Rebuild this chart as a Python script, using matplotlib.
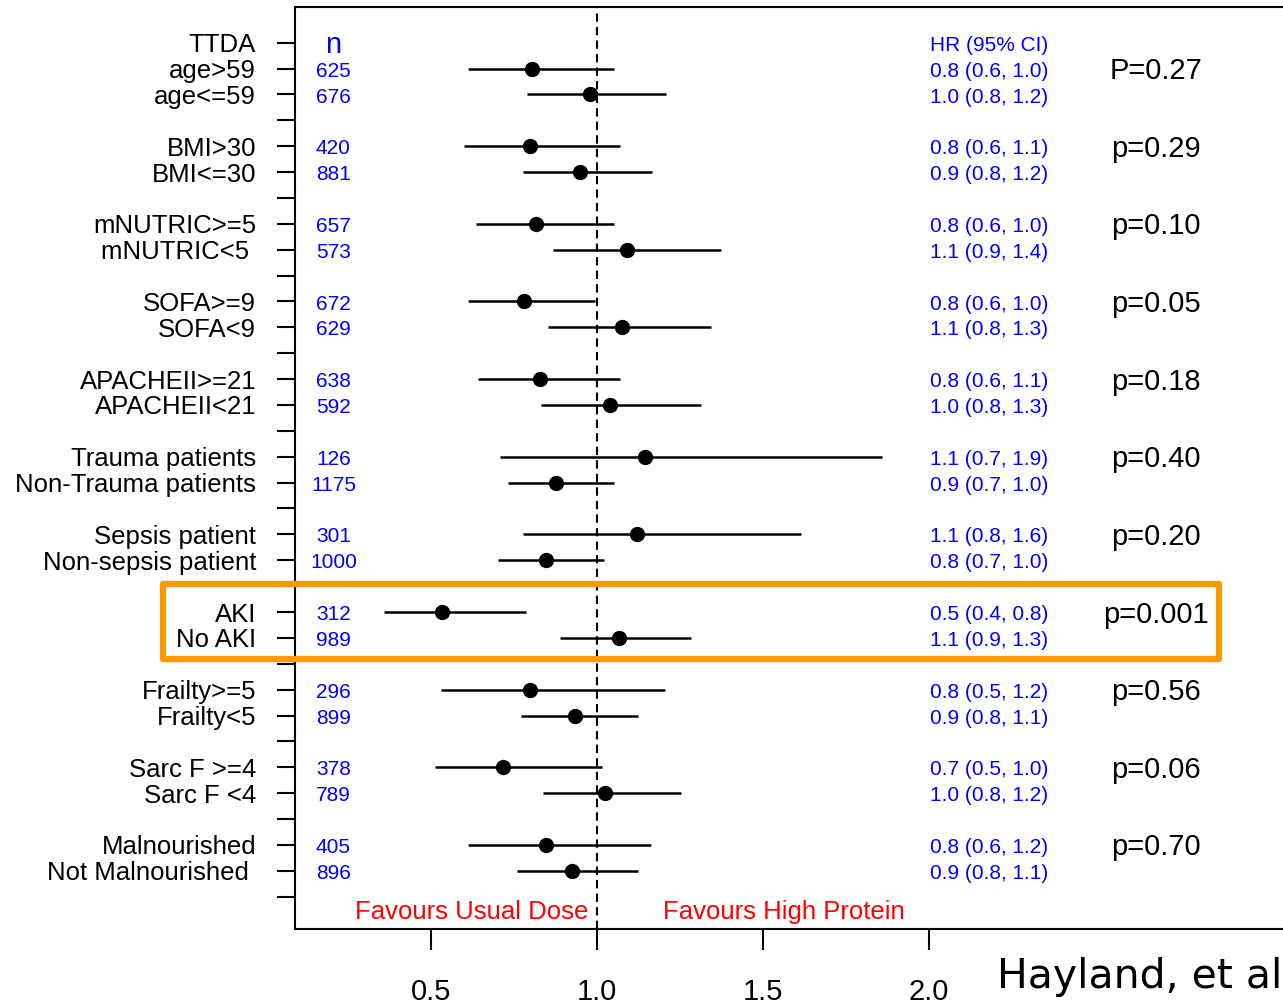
import numpy as np
import matplotlib.pyplot as plt
from matplotlib.patches import Rectangle

plt.rcParams['font.family'] = ['Liberation Sans', 'DejaVu Sans']

# subgroups, two per group
subgroups = ["age>59", "age<=59", "BMI>30", "BMI<=30", "mNUTRIC>=5", "mNUTRIC<5 ",
             "SOFA>=9", "SOFA<9", "APACHEII>=21", "APACHEII<21",
             "Trauma patients", "Non-Trauma patients", "Sepsis patient", "Non-sepsis patient",
             "AKI", "No AKI", "Frailty>=5", "Frailty<5", "Sarc F >=4", "Sarc F <4",
             "Malnourished", "Not Malnourished "]
n_pat = [625, 676, 420, 881, 657, 573, 672, 629, 638, 592, 126, 1175,
         301, 1000, 312, 989, 296, 899, 378, 789, 405, 896]
hr = [0.804, 0.980, 0.799, 0.951, 0.818, 1.091, 0.780, 1.075, 0.829, 1.041, 1.146, 0.877,
      1.122, 0.847, 0.533, 1.068, 0.798, 0.934, 0.718, 1.025, 0.848, 0.926]
ci_lo = [0.612, 0.789, 0.601, 0.779, 0.637, 0.869, 0.612, 0.852, 0.643, 0.832, 0.710, 0.734,
         0.779, 0.704, 0.360, 0.888, 0.532, 0.771, 0.514, 0.838, 0.611, 0.759]
ci_hi = [1.051, 1.210, 1.069, 1.168, 1.051, 1.375, 0.995, 1.345, 1.069, 1.315, 1.860, 1.052,
         1.615, 1.021, 0.788, 1.284, 1.205, 1.125, 1.015, 1.253, 1.163, 1.125]
hr_text = ["0.8 (0.6, 1.0)", "1.0 (0.8, 1.2)", "0.8 (0.6, 1.1)", "0.9 (0.8, 1.2)",
           "0.8 (0.6, 1.0)", "1.1 (0.9, 1.4)", "0.8 (0.6, 1.0)", "1.1 (0.8, 1.3)",
           "0.8 (0.6, 1.1)", "1.0 (0.8, 1.3)", "1.1 (0.7, 1.9)", "0.9 (0.7, 1.0)",
           "1.1 (0.8, 1.6)", "0.8 (0.7, 1.0)", "0.5 (0.4, 0.8)", "1.1 (0.9, 1.3)",
           "0.8 (0.5, 1.2)", "0.9 (0.8, 1.1)", "0.7 (0.5, 1.0)", "1.0 (0.8, 1.2)",
           "0.8 (0.6, 1.2)", "0.9 (0.8, 1.1)"]
p_values = ["P=0.27", "p=0.29", "p=0.10", "p=0.05", "p=0.18", "p=0.40",
            "p=0.20", "p=0.001", "p=0.56", "p=0.06", "p=0.70"]
x_ticks = [0.5, 1.0, 1.5, 2.0]

# row layout: header row 0, then 2 rows + blank per group
rows = [1 + 3 * (i // 2) + i % 2 for i in range(len(subgroups))]
n_rows = 1 + 3 * len(p_values)
tick_labels = [""] * n_rows
tick_labels[0] = "TTDA"
for i, r in enumerate(rows):
    tick_labels[r] = subgroups[i]

W, H = 1283, 1005
fig = plt.figure(figsize=(W / 100, H / 100), dpi=100)
ax = fig.add_axes([295 / W, (H - 929) / H, (W - 295) / W, (929 - 7) / H])

ax.axvline(1.0, color='black', lw=1.5, ls=(0, (4, 2.5)), zorder=1)
ax.hlines(rows, ci_lo, ci_hi, color='black', lw=1.8, zorder=2)
ax.plot(hr, rows, 'o', color='black', ms=10, zorder=3)

x_n, x_hr, x_p = 0.207, 2.005, 2.685
dy = 0.1  # text sits a little below the tick
ax.text(x_n, dy, "n", color='blue', fontsize=21, ha='center', va='center')
ax.text(x_hr, dy, "HR (95% CI)", color='blue', fontsize=15, ha='left', va='center')
for i, r in enumerate(rows):
    ax.text(x_n, r + dy, str(n_pat[i]), color='blue', fontsize=15, ha='center', va='center')
    ax.text(x_hr, r + dy, hr_text[i], color='blue', fontsize=15, ha='left', va='center')
for g, p in enumerate(p_values):
    ax.text(x_p, 1 + 3 * g + dy, p, color='black', fontsize=21, ha='center', va='center')

ax.text(0.975, 33.6, "Favours Usual Dose", color='red', fontsize=18.5, ha='right', va='center')
ax.text(1.2, 33.6, "Favours High Protein", color='red', fontsize=18.5, ha='left', va='center')

ax.set_xlim(1 + (295 - 596.7) / 332, 1 + (W - 596.7) / 332)
ax.set_ylim(34.25, -1.38)
ax.set_xticks(x_ticks)
ax.set_xticklabels(["%.1f" % v for v in x_ticks])
ax.set_yticks(np.arange(n_rows))
ax.set_yticklabels(tick_labels)
ax.tick_params(axis='x', length=15, width=1.5, labelsize=21, pad=20)
ax.tick_params(axis='y', length=13, width=1.5, labelsize=18.5, pad=15)
ax.spines['right'].set_visible(False)
for s in ['left', 'top', 'bottom']:
    ax.spines[s].set_linewidth(1.5)

# highlight box around AKI rows
fig.patches.append(Rectangle((163 / W, (H - 658.5) / H), 1056 / W, 75 / H,
                             transform=fig.transFigure, fill=False,
                             edgecolor='#FF9900', lw=4.5, joinstyle='round'))

fig.text(997 / W, (H - 988) / H, "Hayland, et al", fontsize=29.5,
         family='DejaVu Sans', ha='left', va='baseline')

fig.savefig("out.png", dpi=100)
